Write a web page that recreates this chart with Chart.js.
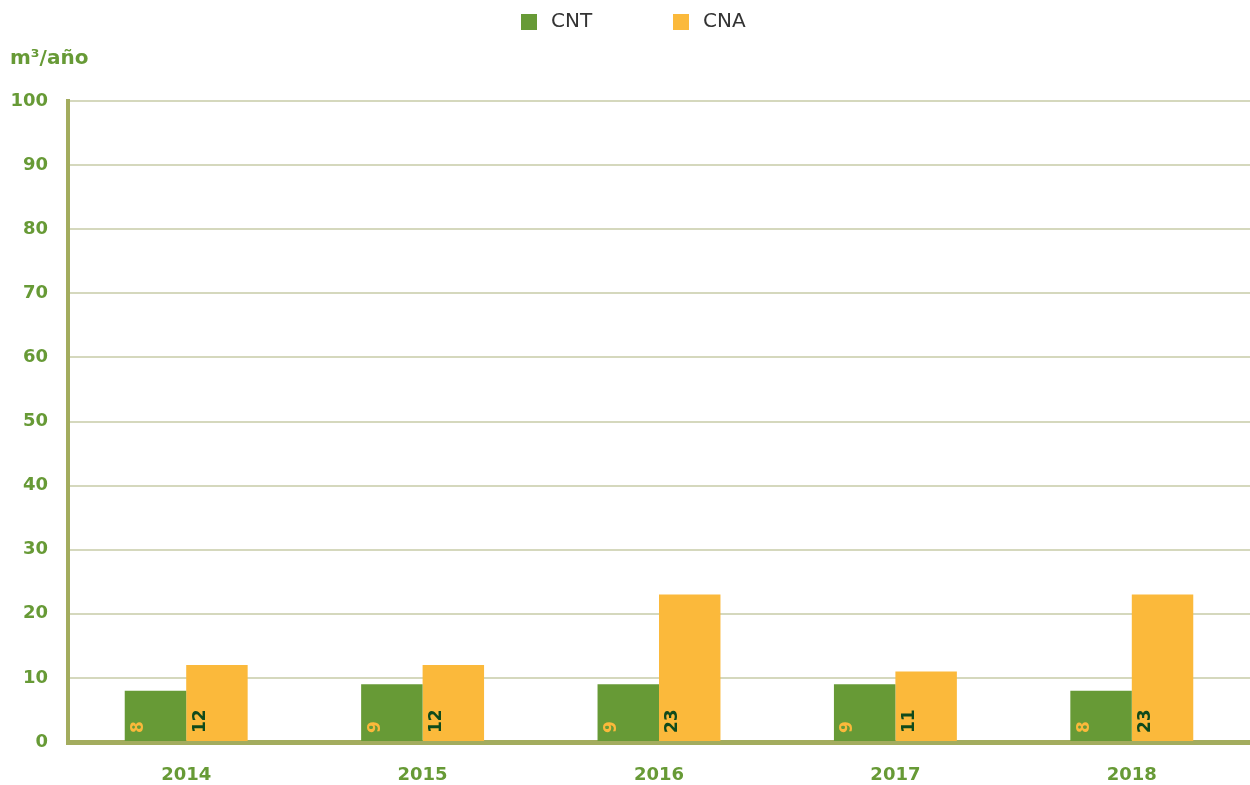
<!DOCTYPE html>
<html>
<head>
<meta charset="utf-8">
<script src="https://cdn.jsdelivr.net/npm/chart.js@4.4.1/dist/chart.umd.min.js"></script>
<style>
  html, body { margin: 0; padding: 0; background: #fff; }
  #wrap { width: 1250px; height: 785px; }
</style>
</head>
<body>
<div id="wrap"><canvas id="chart"></canvas></div>
<script>
const years = ['2014', '2015', '2016', '2017', '2018'];
const cnt = [8, 9, 9, 9, 8];
const cna = [12, 12, 23, 11, 23];
const yTicks = [0, 10, 20, 30, 40, 50, 60, 70, 80, 90, 100];

const GREEN = '#679a36';
const YELLOW = '#fbb93b';
const DARK = '#0f4a1c';
const FONT = '"DejaVu Sans", sans-serif';

// rotated value labels at the foot of each bar
const barLabels = {
  id: 'barLabels',
  afterDatasetsDraw(chart) {
    const ctx = chart.ctx;
    chart.data.datasets.forEach((ds, i) => {
      chart.getDatasetMeta(i).data.forEach((bar, j) => {
        ctx.save();
        ctx.translate(bar.x - bar.width / 2 + 14, bar.base - 8);
        ctx.rotate(-Math.PI / 2);
        ctx.font = 'bold 17px ' + FONT;
        ctx.fillStyle = ds.labelColor;
        ctx.textAlign = 'left';
        ctx.textBaseline = 'middle';
        ctx.fillText(ds.data[j], 0, 0);
        ctx.restore();
      });
    });
  }
};

// legend + unit title
const topTexts = {
  id: 'topTexts',
  afterDraw(chart) {
    const ctx = chart.ctx;
    const offs = [-104, 48];
    ctx.save();
    chart.data.datasets.forEach((ds, i) => {
      const x = chart.width / 2 + offs[i];
      ctx.fillStyle = ds.backgroundColor;
      ctx.fillRect(x, 14, 16, 16);
      ctx.fillStyle = '#333';
      ctx.font = '20px ' + FONT;
      ctx.textBaseline = 'middle';
      ctx.textAlign = 'left';
      ctx.fillText(ds.label, x + 30, 22);
    });
    ctx.fillStyle = GREEN;
    ctx.font = 'bold 20px ' + FONT;
    ctx.fillText('m³/año', 10, 59);
    ctx.restore();
  }
};

new Chart(document.getElementById('chart'), {
  type: 'bar',
  data: {
    labels: years,
    datasets: [
      { label: 'CNT', data: cnt, backgroundColor: GREEN, labelColor: YELLOW },
      { label: 'CNA', data: cna, backgroundColor: YELLOW, labelColor: DARK }
    ]
  },
  options: {
    responsive: true,
    maintainAspectRatio: false,
    animation: false,
    layout: { padding: { top: 101, left: 8, right: -8, bottom: 0 } },
    datasets: { bar: { categoryPercentage: 0.52, barPercentage: 1 } },
    plugins: {
      legend: { display: false },
      tooltip: { enabled: false }
    },
    scales: {
      x: {
        afterFit: (axis) => { axis.height = 43; },
        grid: { display: false, drawTicks: false },
        border: { display: true, color: '#a3ac5e', width: 5 },
        ticks: { color: GREEN, font: { family: FONT, size: 18, weight: 'bold' }, padding: 23, maxRotation: 0 }
      },
      y: {
        min: 0,
        max: 100,
        afterFit: (axis) => { axis.width = 60; },
        afterBuildTicks: (axis) => { axis.ticks = yTicks.map(v => ({ value: v })); },
        grid: { color: '#d5d8bd', lineWidth: 2, drawTicks: false },
        border: { display: true, color: '#a3ac5e', width: 4 },
        ticks: { color: GREEN, font: { family: FONT, size: 18, weight: 'bold' }, padding: 20 }
      }
    }
  },
  plugins: [barLabels, topTexts]
});
</script>
</body>
</html>
